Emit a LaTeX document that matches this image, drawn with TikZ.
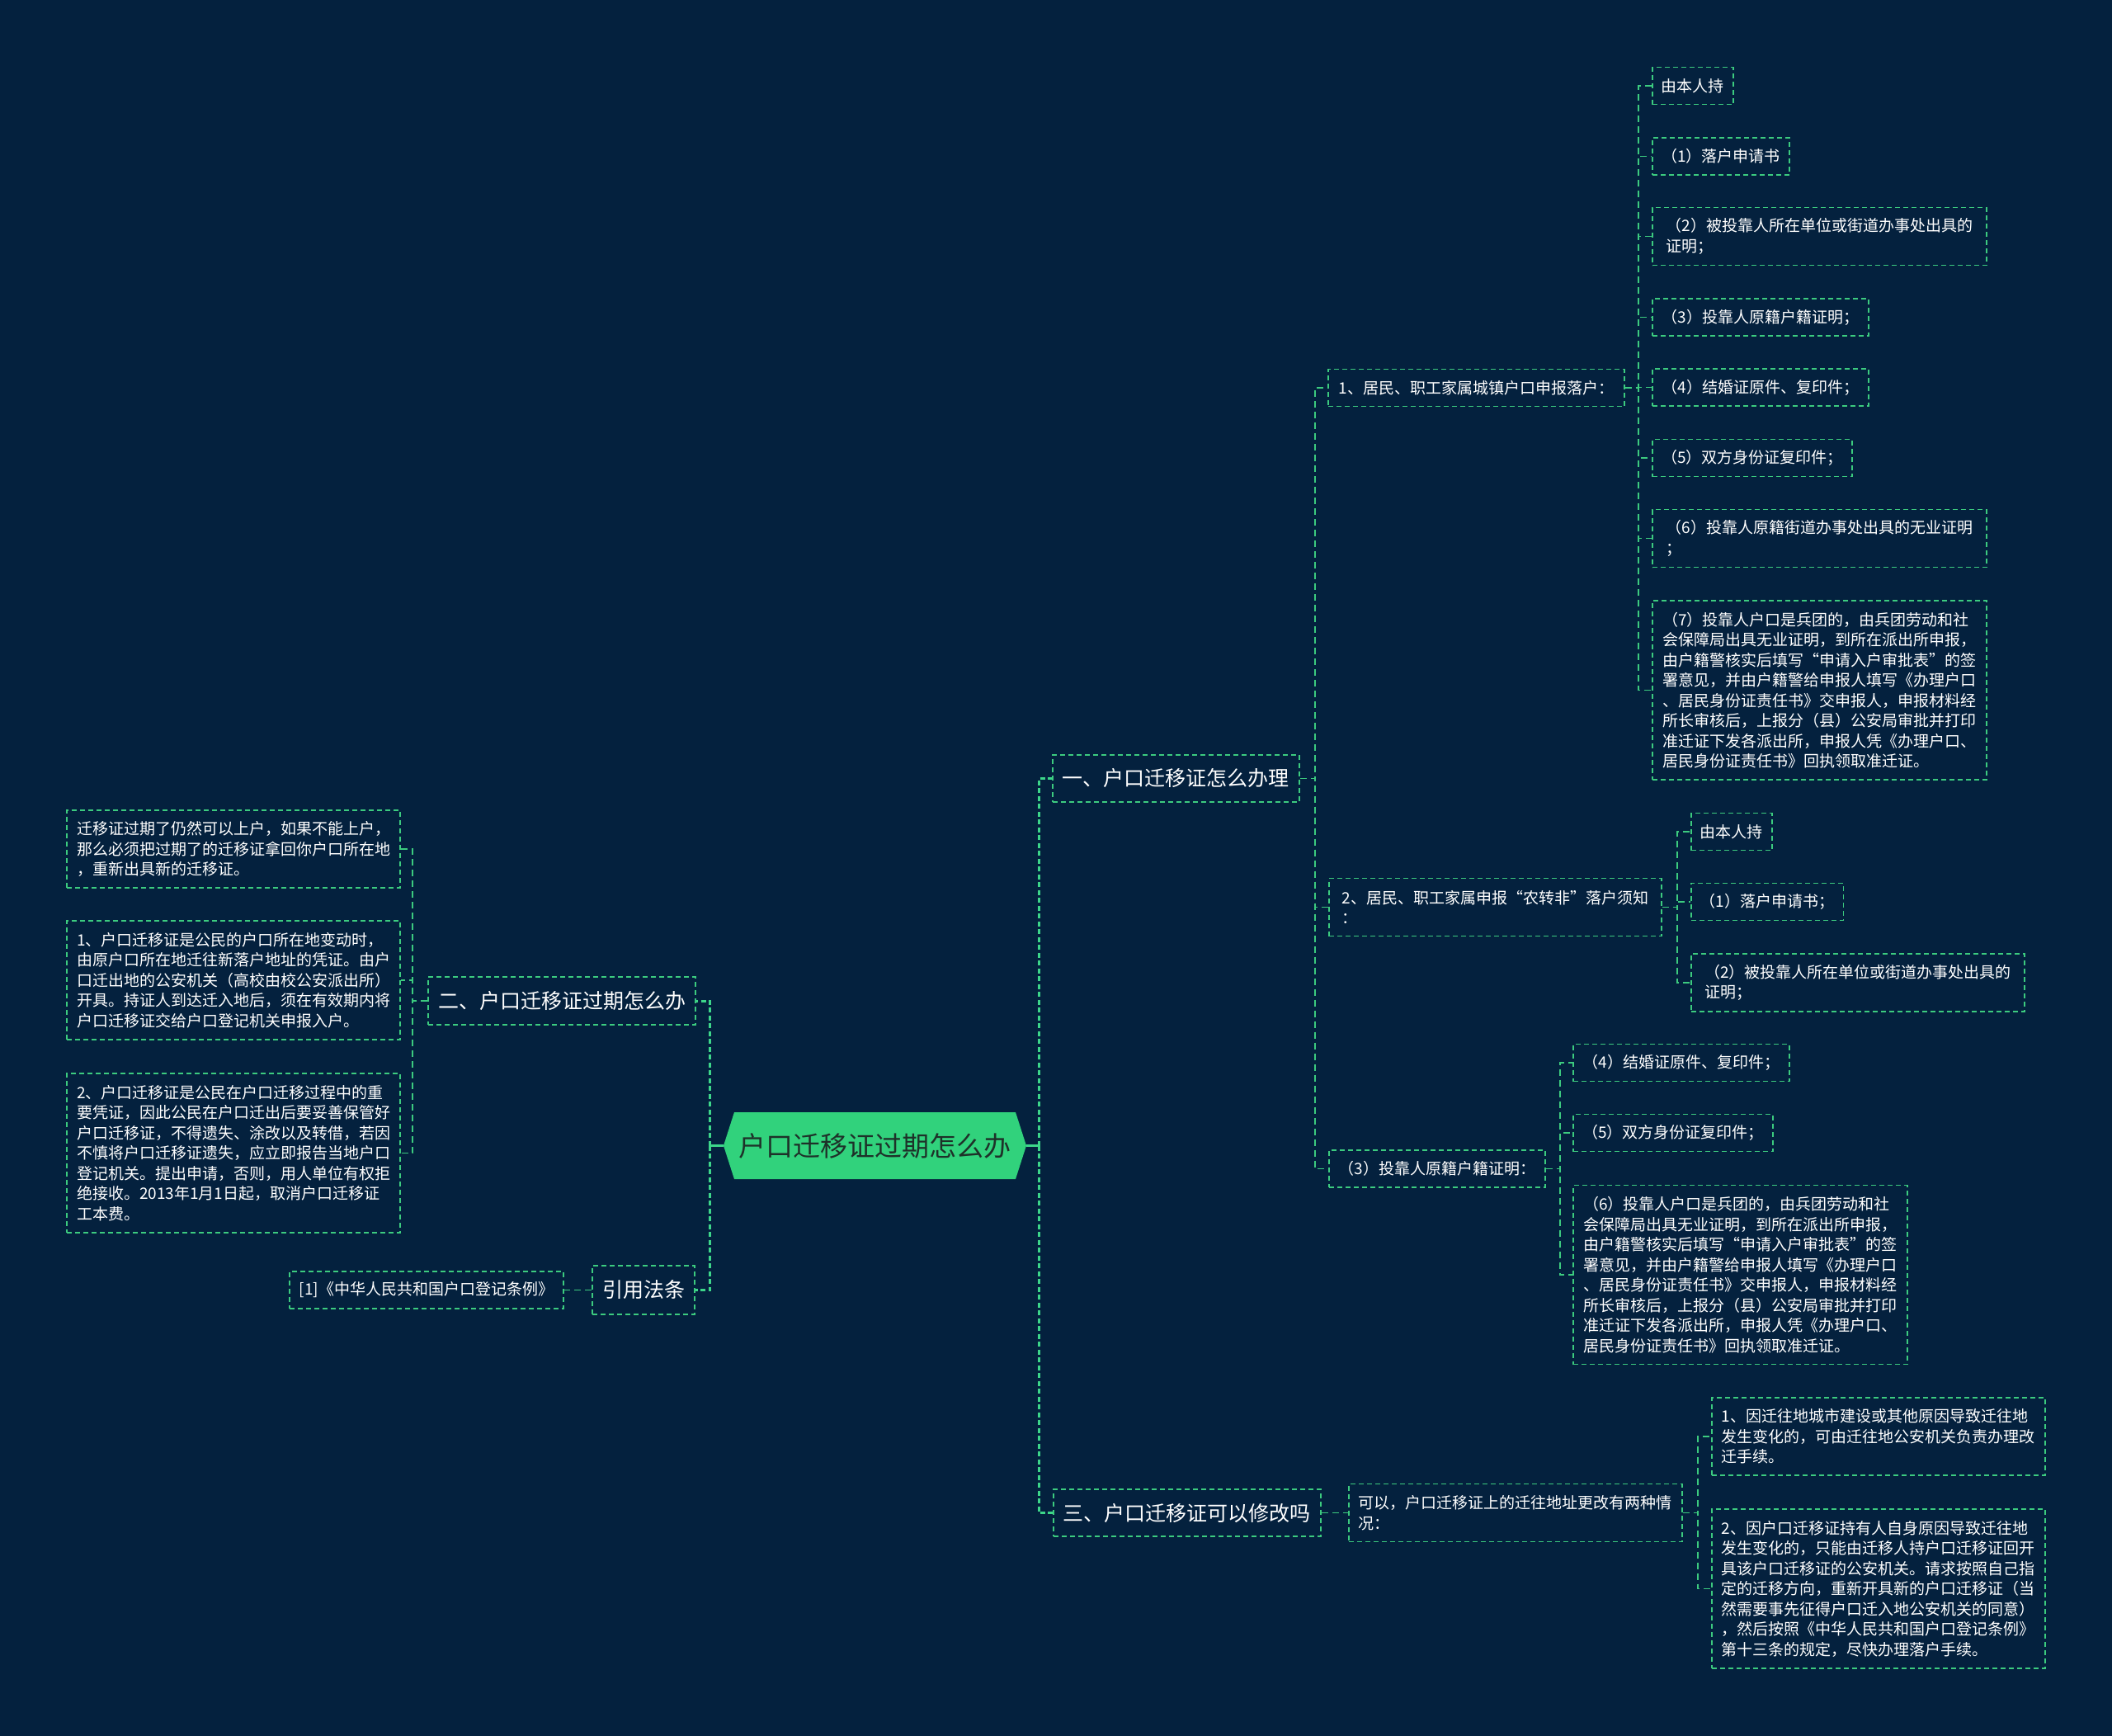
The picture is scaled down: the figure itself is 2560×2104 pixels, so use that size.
\documentclass[tikz,border=0pt]{standalone}
\usepackage{fontspec}
\setmainfont{Noto Sans CJK SC}
\definecolor{bg}{HTML}{04213E}
\definecolor{lg}{HTML}{3CCB7F}
\definecolor{bright}{HTML}{3DD68A}
\definecolor{rootfill}{HTML}{31D27C}
\definecolor{roottext}{HTML}{1E3129}
\begin{document}
\begin{tikzpicture}[x=1pt,y=-1pt,
  conn/.style={draw=lg,line width=1.8pt,dash pattern=on 8pt off 5pt},
  mainconn/.style={draw=bright,line width=3pt,dash pattern=on 6pt off 3.5pt},
  rootconn/.style={draw=bright,line width=3pt},
  box/.style={draw=lg,line width=1.8pt,dash pattern=on 6pt off 4pt,text=white,rectangle,
    inner xsep=11pt,inner ysep=0pt,align=left,font=\fontsize{19}{24.5}\selectfont},
  lvone/.style={box,font=\fontsize{25}{30}\selectfont,inner xsep=12pt},
  rootnode/.style={rectangle,inner sep=0pt,text=roottext,font=\fontsize{33}{40}\selectfont,
    minimum width=367pt,minimum height=81pt}
  ]
\useasboundingbox (0,0) rectangle (2560,2104);
\fill[bg] (0,0) rectangle (2560,2104);

% root
\fill[rootfill] (877,1388.5) -- (890,1348) -- (1231,1348) -- (1244,1388.5) -- (1231,1429) -- (890,1429) -- cycle;
\node[rootnode] (root) at (1060.5,1388.5) {户口迁移证过期怎么办};

% level 1
\node[lvone,anchor=west,minimum width=299pt,minimum height=57pt] (n1) at (1275,943.5) {一、户口迁移证怎么办理};
\node[lvone,anchor=west,minimum width=323pt,minimum height=57pt] (n3) at (1276,1833.5) {三、户口迁移证可以修改吗};
\node[lvone,anchor=east,minimum width=322pt,minimum height=58pt] (n2) at (844,1213) {二、户口迁移证过期怎么办};
\node[lvone,anchor=east,minimum width=123pt,minimum height=59pt] (n4) at (843,1563.5) {引用法条};

% level 2
\node[box,anchor=west,minimum width=359pt,minimum height=45pt] (m1) at (1609,470) {1、居民、职工家属城镇户口申报落户：};
\node[box,anchor=west,minimum width=403pt,minimum height=70pt] (m2) at (1610,1099.5) {2、居民、职工家属申报“农转非”落户须知\\：};
\node[box,anchor=west,minimum width=262pt,minimum height=45pt] (m3) at (1610,1416.5) {（3）投靠人原籍户籍证明：};
\node[box,anchor=west,minimum width=404pt,minimum height=70pt] (m4) at (1634,1833.5) {可以，户口迁移证上的迁往地址更改有两种情\\况：};

% level 3 under m1
\node[box,anchor=west,minimum width=97pt,minimum height=45pt] (a1) at (2002,104) {由本人持};
\node[box,anchor=west,minimum width=166pt,minimum height=45pt] (a2) at (2002,189.5) {（1）落户申请书};
\node[box,anchor=west,minimum width=405pt,minimum height=70pt] (a3) at (2002,286.5) {（2）被投靠人所在单位或街道办事处出具的\\证明；};
\node[box,anchor=west,minimum width=262pt,minimum height=45pt] (a4) at (2002,384.5) {（3）投靠人原籍户籍证明；};
\node[box,anchor=west,minimum width=262pt,minimum height=45pt] (a5) at (2002,469.5) {（4）结婚证原件、复印件；};
\node[box,anchor=west,minimum width=242pt,minimum height=45pt] (a6) at (2002,555) {（5）双方身份证复印件；};
\node[box,anchor=west,minimum width=405pt,minimum height=70pt] (a7) at (2002,652.5) {（6）投靠人原籍街道办事处出具的无业证明\\；};
\node[box,anchor=west,minimum width=405pt,minimum height=217pt] (a8) at (2002,836.5) {（7）投靠人户口是兵团的，由兵团劳动和社\\会保障局出具无业证明，到所在派出所申报，\\由户籍警核实后填写“申请入户审批表”的签\\署意见，并由户籍警给申报人填写《办理户口\\、居民身份证责任书》交申报人，申报材料经\\所长审核后，上报分（县）公安局审批并打印\\准迁证下发各派出所，申报人凭《办理户口、\\居民身份证责任书》回执领取准迁证。};

% level 3 under m2
\node[box,anchor=west,minimum width=96pt,minimum height=45pt] (b1) at (2049,1008) {由本人持};
\node[box,anchor=west,minimum width=184pt,minimum height=45pt] (b2) at (2049,1093) {（1）落户申请书；};
\node[box,anchor=west,minimum width=404pt,minimum height=70pt] (b3) at (2049,1191) {（2）被投靠人所在单位或街道办事处出具的\\证明；};

% level 3 under m3
\node[box,anchor=west,minimum width=262pt,minimum height=45pt] (c1) at (1906,1288) {（4）结婚证原件、复印件；};
\node[box,anchor=west,minimum width=242pt,minimum height=45pt] (c2) at (1906,1373) {（5）双方身份证复印件；};
\node[box,anchor=west,minimum width=405pt,minimum height=217pt] (c3) at (1906,1545) {（6）投靠人户口是兵团的，由兵团劳动和社\\会保障局出具无业证明，到所在派出所申报，\\由户籍警核实后填写“申请入户审批表”的签\\署意见，并由户籍警给申报人填写《办理户口\\、居民身份证责任书》交申报人，申报材料经\\所长审核后，上报分（县）公安局审批并打印\\准迁证下发各派出所，申报人凭《办理户口、\\居民身份证责任书》回执领取准迁证。};

% level 3 under m4
\node[box,anchor=west,minimum width=404pt,minimum height=94pt] (d1) at (2074,1741) {1、因迁往地城市建设或其他原因导致迁往地\\发生变化的，可由迁往地公安机关负责办理改\\迁手续。};
\node[box,anchor=west,minimum width=404pt,minimum height=193pt] (d2) at (2074,1925.5) {2、因户口迁移证持有人自身原因导致迁往地\\发生变化的，只能由迁移人持户口迁移证回开\\具该户口迁移证的公安机关。请求按照自己指\\定的迁移方向，重新开具新的户口迁移证（当\\然需要事先征得户口迁入地公安机关的同意）\\，然后按照《中华人民共和国户口登记条例》\\第十三条的规定，尽快办理落户手续。};

% left side children
\node[box,anchor=east,minimum width=404pt,minimum height=94pt] (e1) at (486,1029) {迁移证过期了仍然可以上户，如果不能上户，\\那么必须把过期了的迁移证拿回你户口所在地\\，重新出具新的迁移证。};
\node[box,anchor=east,minimum width=404pt,minimum height=144pt] (e2) at (486,1188) {1、户口迁移证是公民的户口所在地变动时，\\由原户口所在地迁往新落户地址的凭证。由户\\口迁出地的公安机关（高校由校公安派出所）\\开具。持证人到达迁入地后，须在有效期内将\\户口迁移证交给户口登记机关申报入户。};
\node[box,anchor=east,minimum width=404pt,minimum height=193pt] (e3) at (486,1397.5) {2、户口迁移证是公民在户口迁移过程中的重\\要凭证，因此公民在户口迁出后要妥善保管好\\户口迁移证，不得遗失、涂改以及转借，若因\\不慎将户口迁移证遗失，应立即报告当地户口\\登记机关。提出申请，否则，用人单位有权拒\\绝接收。2013年1月1日起，取消户口迁移证\\工本费。};
\node[box,anchor=east,minimum width=332pt,minimum height=45pt] (f1) at (684,1563.5) {[1]《中华人民共和国户口登记条例》};

% connectors: root
\draw[rootconn] (root.east) -- ++(15,0);
\draw[rootconn] (root.west) -- ++(-16,0);
\foreach \c in {n1,n3} \draw[mainconn] ([xshift=15pt]root.east) |- (\c.west);
\foreach \c in {n2,n4} \draw[mainconn] ([xshift=-16pt]root.west) |- (\c.east);

% deeper connectors
\foreach \c in {m1,m2,m3} \draw[conn] (n1.east) -- ++(18,0) |- (\c.west);
\draw[conn] (n3.east) -- (m4.west);
\foreach \c in {a1,a2,a3,a4,a5,a6,a7,a8} \draw[conn] (m1.east) -- ++(16,0) |- (\c.west);
\foreach \c in {b1,b2,b3} \draw[conn] (m2.east) -- ++(18,0) |- (\c.west);
\foreach \c in {c1,c2,c3} \draw[conn] (m3.east) -- ++(17,0) |- (\c.west);
\foreach \c in {d1,d2} \draw[conn] (m4.east) -- ++(18,0) |- (\c.west);
\foreach \c in {e1,e2,e3} \draw[conn] (n2.west) -- ++(-18,0) |- (\c.east);
\draw[conn] (n4.west) -- (f1.east);
\end{tikzpicture}
\end{document}
